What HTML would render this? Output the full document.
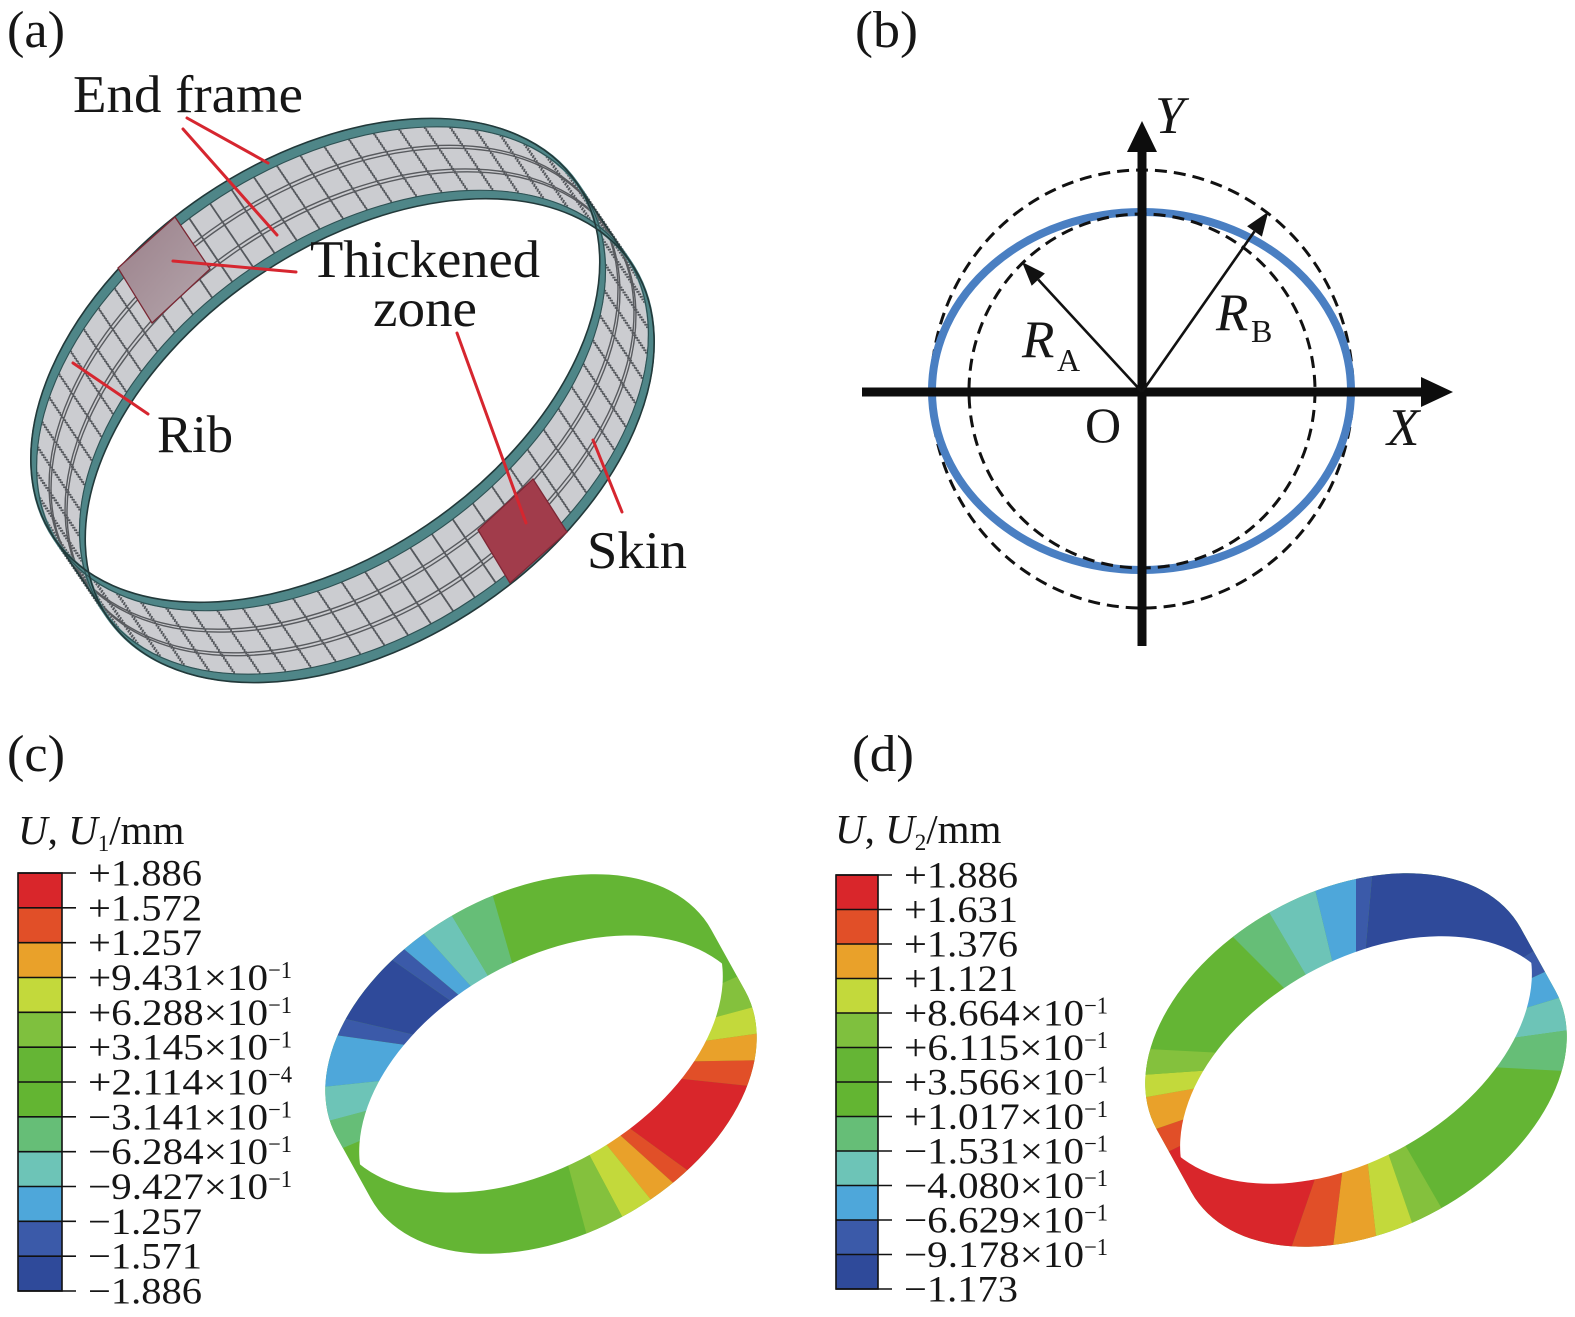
<!DOCTYPE html>
<html><head><meta charset="utf-8"><style>
html,body{margin:0;padding:0;background:#fff;width:1575px;height:1317px;overflow:hidden;}
svg{display:block;}
text{font-family:"Liberation Serif","Times New Roman",Times,serif;fill:#161616;}
</style></head><body>
<svg width="1575" height="1317" viewBox="0 0 1575 1317" xmlns="http://www.w3.org/2000/svg" font-family="'Liberation Serif', 'Times New Roman', Times, serif">
<defs>
  <clipPath id="aE1"><ellipse cx="0" cy="-48.5" rx="316" ry="199"/></clipPath>
  <clipPath id="cHull">
    <ellipse transform="rotate(-29)" cx="0" cy="-35" rx="214" ry="138"/>
    <ellipse transform="rotate(-29)" cx="0" cy="35" rx="214" ry="138"/>
    <rect transform="rotate(-29)" x="-214" y="-35" width="428" height="70"/>
  </clipPath>
  <clipPath id="cE1"><ellipse transform="rotate(-29)" cx="0" cy="-35" rx="214" ry="138"/></clipPath>
  <clipPath id="cE2"><ellipse transform="rotate(-29)" cx="0" cy="35" rx="214" ry="138"/></clipPath>
  <clipPath id="dHull">
    <ellipse transform="rotate(-29)" cx="0" cy="-36" rx="208" ry="135"/>
    <ellipse transform="rotate(-29)" cx="0" cy="36" rx="208" ry="135"/>
    <rect transform="rotate(-29)" x="-208" y="-36" width="416" height="72"/>
  </clipPath>
  <clipPath id="dE1"><ellipse transform="rotate(-29)" cx="0" cy="-36" rx="208" ry="135"/></clipPath>
  <clipPath id="dE2"><ellipse transform="rotate(-29)" cx="0" cy="36" rx="208" ry="135"/></clipPath>
  <linearGradient id="p1g" x1="0" y1="0" x2="1" y2="1">
    <stop offset="0" stop-color="#9a7f89"/><stop offset="1" stop-color="#b5a7ad"/>
  </linearGradient>
</defs>

<!-- ================= (a) ================= -->
<g transform="translate(342.5 400.5) rotate(-34.1)">
  <g fill="#cbccd0">
    <ellipse cx="0" cy="-48.5" rx="316" ry="199"/>
    <ellipse cx="0" cy="48.5" rx="316" ry="199"/>
    <rect x="-316" y="-48.5" width="632" height="97"/>
  </g>
  <g fill="none" stroke="#55585d" stroke-width="3.2" stroke-dasharray="1.8 23.8">
    <ellipse cx="0" cy="-38" rx="316" ry="199"/><ellipse cx="0" cy="-35" rx="316" ry="199"/>
    <ellipse cx="0" cy="-32" rx="316" ry="199"/><ellipse cx="0" cy="-29" rx="316" ry="199"/>
    <ellipse cx="0" cy="-26" rx="316" ry="199"/><ellipse cx="0" cy="-23" rx="316" ry="199"/>
    <ellipse cx="0" cy="-20" rx="316" ry="199"/><ellipse cx="0" cy="-17" rx="316" ry="199"/>
    <ellipse cx="0" cy="-14" rx="316" ry="199"/><ellipse cx="0" cy="-11" rx="316" ry="199"/>
    <ellipse cx="0" cy="-8" rx="316" ry="199"/><ellipse cx="0" cy="-5" rx="316" ry="199"/>
    <ellipse cx="0" cy="-2" rx="316" ry="199"/><ellipse cx="0" cy="1" rx="316" ry="199"/>
    <ellipse cx="0" cy="4" rx="316" ry="199"/><ellipse cx="0" cy="7" rx="316" ry="199"/>
    <ellipse cx="0" cy="10" rx="316" ry="199"/><ellipse cx="0" cy="13" rx="316" ry="199"/>
    <ellipse cx="0" cy="16" rx="316" ry="199"/><ellipse cx="0" cy="19" rx="316" ry="199"/>
    <ellipse cx="0" cy="22" rx="316" ry="199"/><ellipse cx="0" cy="25" rx="316" ry="199"/>
    <ellipse cx="0" cy="28" rx="316" ry="199"/><ellipse cx="0" cy="31" rx="316" ry="199"/>
    <ellipse cx="0" cy="34" rx="316" ry="199"/><ellipse cx="0" cy="37" rx="316" ry="199"/>
  </g>
  <g fill="none" stroke="#585a5e" stroke-width="1.4">
    <ellipse cx="0" cy="-16" rx="316" ry="199"/><ellipse cx="0" cy="-12.5" rx="316" ry="199"/>
    <ellipse cx="0" cy="12.5" rx="316" ry="199"/><ellipse cx="0" cy="16" rx="316" ry="199"/>
  </g>
  <g fill="none" stroke="#4f8688" stroke-width="3">
    <ellipse cx="0" cy="-47.3" rx="316" ry="199"/><ellipse cx="0" cy="-44.8" rx="316" ry="199"/>
    <ellipse cx="0" cy="-42.3" rx="316" ry="199"/><ellipse cx="0" cy="-39.8" rx="316" ry="199"/>
    <ellipse cx="0" cy="39.8" rx="316" ry="199"/><ellipse cx="0" cy="42.3" rx="316" ry="199"/>
    <ellipse cx="0" cy="44.8" rx="316" ry="199"/><ellipse cx="0" cy="47.3" rx="316" ry="199"/>
  </g>
  <g fill="none" stroke="#2e5153" stroke-width="1.1">
    <ellipse cx="0" cy="-38.3" rx="316" ry="199"/><ellipse cx="0" cy="38.3" rx="316" ry="199"/>
  </g>
  <g clip-path="url(#aE1)"><ellipse cx="0" cy="48.5" rx="316" ry="199" fill="#fff"/></g>
  <g fill="none" stroke="#22393a" stroke-width="1.6">
    <ellipse cx="0" cy="-48.5" rx="316" ry="199"/>
    <ellipse cx="0" cy="48.5" rx="316" ry="199"/>
    <line x1="316" y1="-48.5" x2="316" y2="48.5"/>
    <line x1="-316" y1="-48.5" x2="-316" y2="48.5"/>
  </g>
</g>
<polygon points="118,268 175,217 210,269 152,323" fill="url(#p1g)" stroke="#7a2733" stroke-width="1.3"/>
<polygon points="478,530 533,479 567,532 510,583" fill="#a13c4b" stroke="#7d2735" stroke-width="1.3"/>
<g stroke="#d6262f" stroke-width="3" stroke-linecap="round">
  <line x1="187" y1="118" x2="268" y2="163"/>
  <line x1="183" y1="129" x2="277" y2="235"/>
  <line x1="173" y1="261" x2="296" y2="272"/>
  <line x1="457" y1="333" x2="526" y2="523"/>
  <line x1="73" y1="363" x2="148" y2="414"/>
  <line x1="593" y1="440" x2="622" y2="512"/>
</g>
<text x="7" y="47" font-size="52" textLength="58" lengthAdjust="spacingAndGlyphs">(a)</text>
<text x="73" y="112" font-size="53" textLength="230" lengthAdjust="spacingAndGlyphs">End frame</text>
<text x="310" y="277" font-size="53" textLength="230" lengthAdjust="spacingAndGlyphs">Thickened</text>
<text x="373" y="326" font-size="53" textLength="104" lengthAdjust="spacingAndGlyphs">zone</text>
<text x="157" y="452" font-size="53" textLength="76" lengthAdjust="spacingAndGlyphs">Rib</text>
<text x="587" y="568" font-size="53" textLength="100" lengthAdjust="spacingAndGlyphs">Skin</text>

<!-- ================= (b) ================= -->
<text x="855" y="47" font-size="52" textLength="63" lengthAdjust="spacingAndGlyphs">(b)</text>
<ellipse cx="1142" cy="389" rx="211" ry="219" fill="none" stroke="#111" stroke-width="3" stroke-dasharray="12 7"/>
<ellipse cx="1141.5" cy="391" rx="209.5" ry="179" fill="none" stroke="#4a7fc2" stroke-width="8"/>
<ellipse cx="1142" cy="391" rx="173" ry="177" fill="none" stroke="#111" stroke-width="3" stroke-dasharray="12 7"/>
<line x1="862" y1="392" x2="1424" y2="392" stroke="#0d0d0d" stroke-width="9"/>
<polygon points="1421,377 1453,392 1421,407" fill="#0d0d0d"/>
<line x1="1142" y1="148" x2="1142" y2="646" stroke="#0d0d0d" stroke-width="9"/>
<polygon points="1127,152 1142,121 1157,152" fill="#0d0d0d"/>
<line x1="1142" y1="392" x2="1038.3" y2="279.6" stroke="#111" stroke-width="2.6"/>
<polygon points="1022,262 1044.9,273.5 1031.7,285.7" fill="#111"/>
<line x1="1142" y1="392" x2="1254.5" y2="231.4" stroke="#111" stroke-width="2.6"/>
<polygon points="1268.3,211.7 1261.9,236.6 1247.1,226.2" fill="#111"/>
<text x="1155" y="133" font-size="53" font-style="italic">Y</text>
<text x="1387" y="445" font-size="53" font-style="italic">X</text>
<text x="1085" y="442" font-size="50">O</text>
<text x="1022" y="357" font-size="53" font-style="italic">R</text>
<text x="1057" y="371" font-size="32">A</text>
<text x="1216" y="330" font-size="53" font-style="italic">R</text>
<text x="1251" y="342" font-size="32">B</text>

<!-- ================= (c) ================= -->
<text x="7" y="771" font-size="52" textLength="58" lengthAdjust="spacingAndGlyphs">(c)</text>
<text x="18" y="844" font-size="41"><tspan font-style="italic">U</tspan>, <tspan font-style="italic">U</tspan><tspan font-size="23" dy="7">1</tspan><tspan dy="-7">/mm</tspan></text>
<g stroke="none">
  <rect x="18" y="873" width="44" height="34.83" fill="#d9262b"/>
  <rect x="18" y="907.8" width="44" height="34.83" fill="#e14f28"/>
  <rect x="18" y="942.7" width="44" height="34.83" fill="#e9a12a"/>
  <rect x="18" y="977.5" width="44" height="34.83" fill="#c3d93b"/>
  <rect x="18" y="1012.3" width="44" height="34.83" fill="#7fc03e"/>
  <rect x="18" y="1047.2" width="44" height="34.83" fill="#65b535"/>
  <rect x="18" y="1082" width="44" height="34.83" fill="#63b532"/>
  <rect x="18" y="1116.8" width="44" height="34.83" fill="#66be77"/>
  <rect x="18" y="1151.7" width="44" height="34.83" fill="#6dc4b7"/>
  <rect x="18" y="1186.5" width="44" height="34.83" fill="#4ea7da"/>
  <rect x="18" y="1221.3" width="44" height="34.83" fill="#3b5aa9"/>
  <rect x="18" y="1256.2" width="44" height="34.8" fill="#2f4a9a"/>
</g>
<rect x="18" y="873" width="44" height="418" fill="none" stroke="#111" stroke-width="1.6"/>
<g stroke="#111" stroke-width="1.6">
  <line x1="18" y1="873" x2="76" y2="873"/><line x1="18" y1="907.8" x2="76" y2="907.8"/>
  <line x1="18" y1="942.7" x2="76" y2="942.7"/><line x1="18" y1="977.5" x2="76" y2="977.5"/>
  <line x1="18" y1="1012.3" x2="76" y2="1012.3"/><line x1="18" y1="1047.2" x2="76" y2="1047.2"/>
  <line x1="18" y1="1082" x2="76" y2="1082"/><line x1="18" y1="1116.8" x2="76" y2="1116.8"/>
  <line x1="18" y1="1151.7" x2="76" y2="1151.7"/><line x1="18" y1="1186.5" x2="76" y2="1186.5"/>
  <line x1="18" y1="1221.3" x2="76" y2="1221.3"/><line x1="18" y1="1256.2" x2="76" y2="1256.2"/>
  <line x1="18" y1="1291" x2="76" y2="1291"/>
</g>
<g font-size="37">
  <text x="88" y="885.5" textLength="114" lengthAdjust="spacingAndGlyphs">+1.886</text>
  <text x="88" y="920.3" textLength="114" lengthAdjust="spacingAndGlyphs">+1.572</text>
  <text x="88" y="955.2" textLength="114" lengthAdjust="spacingAndGlyphs">+1.257</text>
  <text x="88" y="990" textLength="180" lengthAdjust="spacingAndGlyphs">+9.431×10</text>
  <text x="88" y="1024.8" textLength="180" lengthAdjust="spacingAndGlyphs">+6.288×10</text>
  <text x="88" y="1059.7" textLength="180" lengthAdjust="spacingAndGlyphs">+3.145×10</text>
  <text x="88" y="1094.5" textLength="180" lengthAdjust="spacingAndGlyphs">+2.114×10</text>
  <text x="88" y="1129.3" textLength="180" lengthAdjust="spacingAndGlyphs">−3.141×10</text>
  <text x="88" y="1164.2" textLength="180" lengthAdjust="spacingAndGlyphs">−6.284×10</text>
  <text x="88" y="1199" textLength="180" lengthAdjust="spacingAndGlyphs">−9.427×10</text>
  <text x="88" y="1233.8" textLength="114" lengthAdjust="spacingAndGlyphs">−1.257</text>
  <text x="88" y="1268.7" textLength="114" lengthAdjust="spacingAndGlyphs">−1.571</text>
  <text x="88" y="1303.5" textLength="114" lengthAdjust="spacingAndGlyphs">−1.886</text>
</g>
<g font-size="24">
  <text x="268" y="978" textLength="24" lengthAdjust="spacingAndGlyphs">−1</text>
  <text x="268" y="1012.8" textLength="24" lengthAdjust="spacingAndGlyphs">−1</text>
  <text x="268" y="1047.7" textLength="24" lengthAdjust="spacingAndGlyphs">−1</text>
  <text x="268" y="1082.5" textLength="24" lengthAdjust="spacingAndGlyphs">−4</text>
  <text x="268" y="1117.3" textLength="24" lengthAdjust="spacingAndGlyphs">−1</text>
  <text x="268" y="1152.2" textLength="24" lengthAdjust="spacingAndGlyphs">−1</text>
  <text x="268" y="1187" textLength="24" lengthAdjust="spacingAndGlyphs">−1</text>
</g>
<g transform="translate(541 1064)">
  <g clip-path="url(#cHull)">
    <rect x="-218" y="-192" width="436" height="384" fill="#64b534"/>
    <polygon points="0,0 -218,92.5 -218,58.4" fill="#66be77"/>
    <polygon points="0,0 -218,58.4 -218,22.9" fill="#6dc4b7"/>
    <polygon points="0,0 -218,22.9 -218,-30.6" fill="#4ea7da"/>
    <polygon points="0,0 -218,-30.6 -218,-50.3" fill="#3b5aa9"/>
    <polygon points="0,0 -218,-50.3 -218,-152.6" fill="#2f4a9a"/>
    <polygon points="0,0 -218,-152.6 -218,-182.9" fill="#3b5aa9"/>
    <polygon points="0,0 -218,-182.9 -218,-192 -172.9,-192" fill="#4ea7da"/>
    <polygon points="0,0 -172.9,-192 -115.4,-192" fill="#6dc4b7"/>
    <polygon points="0,0 -115.4,-192 -55,-192" fill="#66be77"/>
    <polygon points="0,0 218,-97.1 218,-58.4" fill="#84c13d"/>
    <polygon points="0,0 218,-58.4 218,-30.6" fill="#c3d93b"/>
    <polygon points="0,0 218,-30.6 218,-3.8" fill="#e9a12a"/>
    <polygon points="0,0 218,-3.8 218,22.9" fill="#e14f28"/>
    <polygon points="0,0 218,22.9 218,158.4" fill="#d9262b"/>
    <polygon points="0,0 218,158.4 218,192 213.2,192" fill="#e14f28"/>
    <polygon points="0,0 213.2,192 155.5,192" fill="#e9a12a"/>
    <polygon points="0,0 155.5,192 102.1,192" fill="#c3d93b"/>
    <polygon points="0,0 102.1,192 51.4,192" fill="#84c13d"/>
  </g>
  <g clip-path="url(#cE1)"><rect x="-186" y="-132" width="372" height="264" fill="#fff" clip-path="url(#cE2)"/></g>
</g>

<!-- ================= (d) ================= -->
<text x="852" y="771" font-size="52" textLength="62" lengthAdjust="spacingAndGlyphs">(d)</text>
<text x="835" y="843" font-size="41"><tspan font-style="italic">U</tspan>, <tspan font-style="italic">U</tspan><tspan font-size="23" dy="7">2</tspan><tspan dy="-7">/mm</tspan></text>
<g stroke="none">
  <rect x="836" y="875" width="42" height="34.5" fill="#d9262b"/>
  <rect x="836" y="909.5" width="42" height="34.5" fill="#e14f28"/>
  <rect x="836" y="944" width="42" height="34.5" fill="#e9a12a"/>
  <rect x="836" y="978.5" width="42" height="34.5" fill="#c3d93b"/>
  <rect x="836" y="1013" width="42" height="34.5" fill="#7fc03e"/>
  <rect x="836" y="1047.5" width="42" height="34.5" fill="#65b535"/>
  <rect x="836" y="1082" width="42" height="34.5" fill="#63b532"/>
  <rect x="836" y="1116.5" width="42" height="34.5" fill="#66be77"/>
  <rect x="836" y="1151" width="42" height="34.5" fill="#6dc4b7"/>
  <rect x="836" y="1185.5" width="42" height="34.5" fill="#4ea7da"/>
  <rect x="836" y="1220" width="42" height="34.5" fill="#3b5aa9"/>
  <rect x="836" y="1254.5" width="42" height="34.5" fill="#2f4a9a"/>
</g>
<rect x="836" y="875" width="42" height="414" fill="none" stroke="#111" stroke-width="1.6"/>
<g stroke="#111" stroke-width="1.6">
  <line x1="836" y1="875" x2="892" y2="875"/><line x1="836" y1="909.5" x2="892" y2="909.5"/>
  <line x1="836" y1="944" x2="892" y2="944"/><line x1="836" y1="978.5" x2="892" y2="978.5"/>
  <line x1="836" y1="1013" x2="892" y2="1013"/><line x1="836" y1="1047.5" x2="892" y2="1047.5"/>
  <line x1="836" y1="1082" x2="892" y2="1082"/><line x1="836" y1="1116.5" x2="892" y2="1116.5"/>
  <line x1="836" y1="1151" x2="892" y2="1151"/><line x1="836" y1="1185.5" x2="892" y2="1185.5"/>
  <line x1="836" y1="1220" x2="892" y2="1220"/><line x1="836" y1="1254.5" x2="892" y2="1254.5"/>
  <line x1="836" y1="1289" x2="892" y2="1289"/>
</g>
<g font-size="37">
  <text x="904" y="887.5" textLength="114" lengthAdjust="spacingAndGlyphs">+1.886</text>
  <text x="904" y="922" textLength="114" lengthAdjust="spacingAndGlyphs">+1.631</text>
  <text x="904" y="956.5" textLength="114" lengthAdjust="spacingAndGlyphs">+1.376</text>
  <text x="904" y="991" textLength="114" lengthAdjust="spacingAndGlyphs">+1.121</text>
  <text x="904" y="1025.5" textLength="180" lengthAdjust="spacingAndGlyphs">+8.664×10</text>
  <text x="904" y="1060" textLength="180" lengthAdjust="spacingAndGlyphs">+6.115×10</text>
  <text x="904" y="1094.5" textLength="180" lengthAdjust="spacingAndGlyphs">+3.566×10</text>
  <text x="904" y="1129" textLength="180" lengthAdjust="spacingAndGlyphs">+1.017×10</text>
  <text x="904" y="1163.5" textLength="180" lengthAdjust="spacingAndGlyphs">−1.531×10</text>
  <text x="904" y="1198" textLength="180" lengthAdjust="spacingAndGlyphs">−4.080×10</text>
  <text x="904" y="1232.5" textLength="180" lengthAdjust="spacingAndGlyphs">−6.629×10</text>
  <text x="904" y="1267" textLength="180" lengthAdjust="spacingAndGlyphs">−9.178×10</text>
  <text x="904" y="1301.5" textLength="114" lengthAdjust="spacingAndGlyphs">−1.173</text>
</g>
<g font-size="24">
  <text x="1084" y="1013.5" textLength="24" lengthAdjust="spacingAndGlyphs">−1</text>
  <text x="1084" y="1048" textLength="24" lengthAdjust="spacingAndGlyphs">−1</text>
  <text x="1084" y="1082.5" textLength="24" lengthAdjust="spacingAndGlyphs">−1</text>
  <text x="1084" y="1117" textLength="24" lengthAdjust="spacingAndGlyphs">−1</text>
  <text x="1084" y="1151.5" textLength="24" lengthAdjust="spacingAndGlyphs">−1</text>
  <text x="1084" y="1186" textLength="24" lengthAdjust="spacingAndGlyphs">−1</text>
  <text x="1084" y="1220.5" textLength="24" lengthAdjust="spacingAndGlyphs">−1</text>
  <text x="1084" y="1255" textLength="24" lengthAdjust="spacingAndGlyphs">−1</text>
</g>
<g transform="translate(1356 1060)">
  <g clip-path="url(#dHull)">
    <rect x="-213" y="-189" width="426" height="378" fill="#64b534"/>
    <polygon points="0,0 -189,-189 -111.3,-189" fill="#66be77"/>
    <polygon points="0,0 -111.3,-189 -45.4,-189" fill="#6dc4b7"/>
    <polygon points="0,0 -45.4,-189 0,-189" fill="#4ea7da"/>
    <polygon points="0,0 0,-189 16.5,-189" fill="#3b5aa9"/>
    <polygon points="0,0 16.5,-189 213,-189 213,-130.5" fill="#2f4a9a"/>
    <polygon points="0,0 213,-130.5 213,-99.3" fill="#3b5aa9"/>
    <polygon points="0,0 213,-99.3 213,-65.1" fill="#4ea7da"/>
    <polygon points="0,0 213,-65.1 213,-29.9" fill="#6dc4b7"/>
    <polygon points="0,0 213,-29.9 213,11.2" fill="#66be77"/>
    <polygon points="0,0 109.1,189 65.1,189" fill="#84c13d"/>
    <polygon points="0,0 65.1,189 21.5,189" fill="#c3d93b"/>
    <polygon points="0,0 21.5,189 -23.2,189" fill="#e9a12a"/>
    <polygon points="0,0 -23.2,189 -65.1,189" fill="#e14f28"/>
    <polygon points="0,0 -65.1,189 -213,189 -213,103.9" fill="#d9262b"/>
    <polygon points="0,0 -213,103.9 -213,73.3" fill="#e14f28"/>
    <polygon points="0,0 -213,73.3 -213,37.6" fill="#e9a12a"/>
    <polygon points="0,0 -213,37.6 -213,14.9" fill="#c3d93b"/>
    <polygon points="0,0 -213,14.9 -213,-11.2" fill="#84c13d"/>
  </g>
  <g clip-path="url(#dE1)"><rect x="-178" y="-126" width="356" height="252" fill="#fff" clip-path="url(#dE2)"/></g>
</g>
</svg>
</body></html>
